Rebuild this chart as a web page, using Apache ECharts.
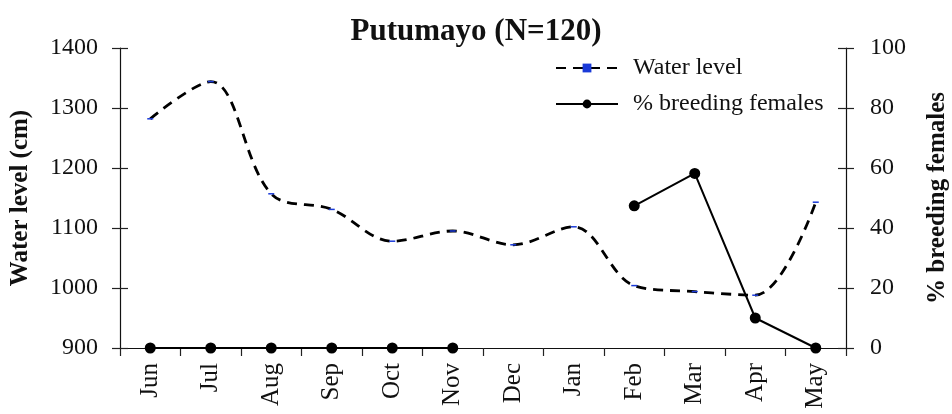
<!DOCTYPE html>
<html><head><meta charset="utf-8">
<script src="https://cdn.jsdelivr.net/npm/echarts@6/dist/echarts.min.js"></script>
<style>html,body{margin:0;padding:0;background:#fff}#c{width:952px;height:414px}</style>
</head><body><div id="c"></div>
<script>
var months = ['Jun','Jul','Aug','Sep','Oct','Nov','Dec','Jan','Feb','Mar','Apr','May'];
var waterLevel = [1282,1344,1157,1131,1078,1095,1072,1102,1004,994,988,1143];
var breeding = [0,0,0,0,0,0,null,null,47.4,58.2,10,0];
var leftTicks = [900,1400,100];
var rightTicks = [0,100,20];
var F = 'Liberation Serif';
var chart = echarts.init(document.getElementById('c'));
function yAx(min,max,iv,pos,inside,show){
  return {type:'value',min:min,max:max,interval:iv,position:pos,
    axisLine:{show:show,lineStyle:{color:'#111',width:1.2}},
    axisTick:{show:true,inside:inside,length:8,lineStyle:{color:'#222',width:1.2}},
    splitLine:{show:false},
    axisLabel:{show:show,fontFamily:F,fontSize:24,color:'#111',margin:22,
      formatter:function(v){return String(v);}}};
}
var yL = yAx(leftTicks[0],leftTicks[1],leftTicks[2],'left',false,true);
yL.name='Water level (cm)';yL.nameLocation='middle';yL.nameGap=87;yL.nameRotate=90;
yL.nameTextStyle={fontFamily:F,fontSize:25,fontWeight:'bold',color:'#111'};
var yR = yAx(rightTicks[0],rightTicks[1],rightTicks[2],'right',false,true);
yR.name='% breeding females';yR.nameLocation='middle';yR.nameGap=79;yR.nameRotate=90;
yR.nameTextStyle={fontFamily:F,fontSize:25,fontWeight:'bold',color:'#111'};
yR.axisLabel.margin=24;
var yL2 = yAx(leftTicks[0],leftTicks[1],leftTicks[2],'left',true,false);
var yR2 = yAx(rightTicks[0],rightTicks[1],rightTicks[2],'right',true,false);
chart.setOption({
  animation:false,
  backgroundColor:'#fff',
  title:{text:'Putumayo (N=120)',left:'center',top:11,
    textStyle:{fontFamily:F,fontSize:31,fontWeight:'bold',color:'#111'}},
  grid:{left:120,right:106,top:48,bottom:66,containLabel:false,outerBoundsMode:'none'},
  legend:{orient:'vertical',left:555,top:56,padding:0,itemWidth:62,itemHeight:11,itemGap:12,
    textStyle:{fontFamily:F,fontSize:24,color:'#111',padding:[0,0,0,10]},
    data:['Water level','% breeding females']},
  xAxis:{type:'category',data:months,boundaryGap:true,
    axisLine:{lineStyle:{color:'#111',width:1.2}},
    axisTick:{show:true,length:8,alignWithLabel:false,lineStyle:{color:'#222',width:1.2}},
    axisLabel:{rotate:90,fontFamily:F,fontSize:25,color:'#111',margin:15,interval:0}},
  yAxis:[yL,yR,yL2,yR2],
  series:[
    {name:'Water level',type:'line',yAxisIndex:0,data:waterLevel,smooth:0.35,
      symbol:'path://M0,0H2V1H0Z',symbolKeepAspect:true,symbolSize:[6,3],showSymbol:true,
      itemStyle:{color:'#1a3ad8'},
      lineStyle:{color:'#000',width:2.8,type:[10,7]},z:2},
    {name:'% breeding females',type:'line',yAxisIndex:1,data:breeding,connectNulls:false,
      symbol:'circle',symbolSize:11,itemStyle:{color:'#000'},
      lineStyle:{color:'#000',width:2},z:3}
  ]
});
</script></body></html>
